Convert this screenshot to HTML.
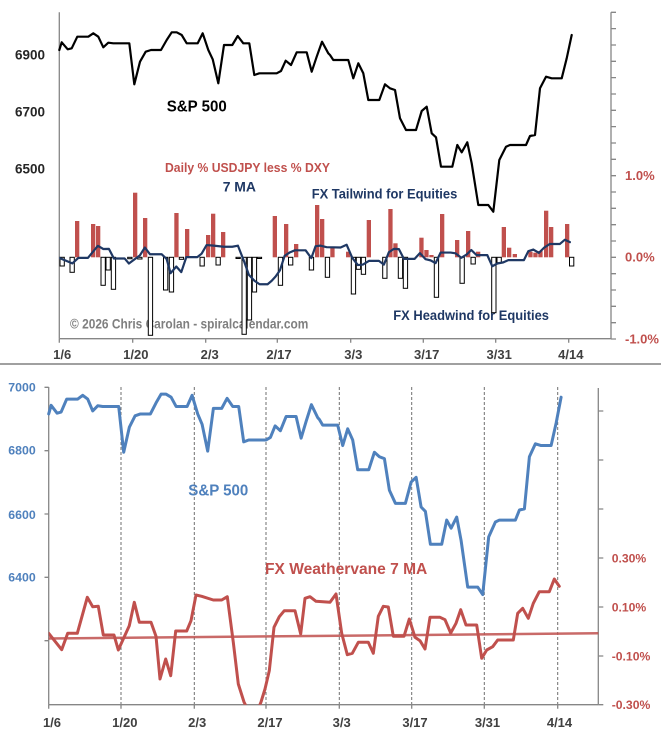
<!DOCTYPE html>
<html><head><meta charset="utf-8"><style>
html,body{margin:0;padding:0;background:#fff;}
svg{display:block;}
text{font-family:"Liberation Sans",Arial,sans-serif;font-weight:bold;}
</style></head><body>
<svg width="661" height="739" viewBox="0 0 661 739" xmlns="http://www.w3.org/2000/svg">
<defs>
<clipPath id="cb"><rect x="48.7" y="380" width="550" height="324.7"/></clipPath>
<clipPath id="ct"><rect x="59.3" y="5" width="552" height="333.7"/></clipPath>
</defs>
<rect width="661" height="739" fill="#fff"/>

<!-- ============ TOP PANEL ============ -->
<!-- axes -->
<g stroke="#868686" stroke-width="1.3" fill="none">
<line x1="59.3" y1="12.3" x2="59.3" y2="338.7"/>
<line x1="611" y1="12.3" x2="611" y2="339"/>
<line x1="59.3" y1="338.7" x2="611" y2="338.7"/>
<path d="M59.3 338.7v4M132.7 338.7v4M205.7 338.7v4M277.3 338.7v4M350.7 338.7v4M423.3 338.7v4M495.7 338.7v4M568.7 338.7v4"/>
<path d="M611 12.3h5M611 28.6h5M611 45h5M611 61.3h5M611 77.6h5M611 94h5M611 110.3h5M611 126.6h5M611 143h5M611 159.3h5M611 175.7h5M611 192h5M611 208.3h5M611 224.7h5M611 241h5M611 257.3h5M611 273.7h5M611 290h5M611 306.3h5M611 322.7h5M611 339h5"/>
</g>

<!-- top labels -->
<g fill="#262626" font-size="14">
<text x="15" y="59.3" textLength="30" lengthAdjust="spacingAndGlyphs">6900</text>
<text x="15" y="116.7" textLength="30" lengthAdjust="spacingAndGlyphs">6700</text>
<text x="15" y="173.3" textLength="30" lengthAdjust="spacingAndGlyphs">6500</text>
</g>
<g fill="#404040" font-size="13" text-anchor="middle">
<text x="62.2" y="359">1/6</text>
<text x="135.8" y="359">1/20</text>
<text x="209.7" y="359">2/3</text>
<text x="279" y="359">2/17</text>
<text x="353.3" y="359">3/3</text>
<text x="426.7" y="359">3/17</text>
<text x="499.2" y="359">3/31</text>
<text x="570.8" y="359">4/14</text>
</g>
<g fill="#C0504D" font-size="13">
<text x="625" y="180">1.0%</text>
<text x="625" y="261.7">0.0%</text>
<text x="625" y="343.3">-1.0%</text>
</g>

<text x="166.7" y="111.7" font-size="16" fill="#000" textLength="60" lengthAdjust="spacingAndGlyphs">S&amp;P 500</text>
<text x="165" y="172" font-size="12.5" fill="#C0504D" textLength="165" lengthAdjust="spacingAndGlyphs">Daily % USDJPY less % DXY</text>
<text x="222.7" y="191.7" font-size="14" fill="#1F3864" textLength="33.3" lengthAdjust="spacingAndGlyphs">7 MA</text>
<text x="311.7" y="198.3" font-size="14" fill="#1F3864" textLength="145.6" lengthAdjust="spacingAndGlyphs">FX Tailwind for Equities</text>
<text x="393.3" y="320" font-size="14" fill="#1F3864" textLength="155.7" lengthAdjust="spacingAndGlyphs">FX Headwind for Equities</text>
<text x="70" y="328.3" font-size="14" fill="#7F7F7F" textLength="238.3" lengthAdjust="spacingAndGlyphs">© 2026 Chris Carolan - spiralcalendar.com</text>

<!-- red bars -->
<g fill="#C0504D">
<rect x="75" y="221" width="4.3" height="36.3"/>
<rect x="91" y="224" width="4.3" height="33.3"/>
<rect x="96" y="226" width="4.3" height="31.3"/>
<rect x="133" y="192.7" width="4.3" height="64.6"/>
<rect x="143" y="218" width="4.3" height="39.3"/>
<rect x="174.3" y="213" width="4.3" height="44.3"/>
<rect x="185" y="229" width="4.3" height="28.3"/>
<rect x="206" y="235" width="4.3" height="22.3"/>
<rect x="211" y="213.7" width="4.3" height="43.6"/>
<rect x="221" y="232" width="4.3" height="25.3"/>
<rect x="272.7" y="216" width="4.3" height="41.3"/>
<rect x="284" y="224" width="4.3" height="33.3"/>
<rect x="294" y="244" width="4.3" height="13.3"/>
<rect x="315" y="205" width="4.3" height="52.3"/>
<rect x="320" y="219" width="4.3" height="38.3"/>
<rect x="330.3" y="247.7" width="4.3" height="9.6"/>
<rect x="346" y="251.7" width="4.3" height="5.6"/>
<rect x="366.7" y="220" width="4.3" height="37.3"/>
<rect x="388.3" y="209" width="4.3" height="48.3"/>
<rect x="393.3" y="243.3" width="4.3" height="14"/>
<rect x="419.3" y="237.7" width="4.3" height="19.6"/>
<rect x="424.3" y="250" width="4.3" height="7.3"/>
<rect x="429.3" y="255" width="4.3" height="2.3"/>
<rect x="440" y="214" width="4.3" height="43.3"/>
<rect x="455" y="240" width="4.3" height="17.3"/>
<rect x="466" y="231" width="4.3" height="26.3"/>
<rect x="476" y="251.7" width="4.3" height="5.6"/>
<rect x="501.7" y="227" width="4.3" height="30.3"/>
<rect x="507" y="247.7" width="4.3" height="9.6"/>
<rect x="512.7" y="254" width="4.3" height="3.3"/>
<rect x="528.3" y="251.7" width="4.3" height="5.6"/>
<rect x="533.3" y="252.7" width="4.3" height="4.6"/>
<rect x="538.3" y="251" width="4.3" height="6.3"/>
<rect x="544" y="210.7" width="4.3" height="46.6"/>
<rect x="549" y="227" width="4.3" height="30.3"/>
<rect x="565" y="224" width="4.3" height="33.3"/>
</g>
<!-- white bars -->
<g fill="#fff" stroke="#000" stroke-width="1">
<rect x="60" y="257.3" width="4.3" height="8.7"/>
<rect x="70" y="257.3" width="4.3" height="15"/>
<rect x="101" y="257.3" width="4.3" height="28"/>
<rect x="106" y="257.3" width="4.3" height="12.7"/>
<rect x="111.3" y="257.3" width="4.3" height="32"/>
<rect x="127.7" y="257.3" width="4.3" height="1.4"/>
<rect x="137.7" y="257.3" width="4.3" height="1.7"/>
<rect x="148.3" y="257.3" width="4.3" height="78"/>
<rect x="163.5" y="257.3" width="4.3" height="32.7"/>
<rect x="169.3" y="257.3" width="4.3" height="34.7"/>
<rect x="179.3" y="257.3" width="4.3" height="2"/>
<rect x="200" y="257.3" width="4.3" height="8.7"/>
<rect x="216" y="257.3" width="4.3" height="7.7"/>
<rect x="236" y="257.3" width="4.3" height="1.2"/>
<rect x="242" y="257.3" width="4.3" height="77"/>
<rect x="247.3" y="257.3" width="4.3" height="62.7"/>
<rect x="252.3" y="257.3" width="4.3" height="34.7"/>
<rect x="257.3" y="257.3" width="4.3" height="1.2"/>
<rect x="278.3" y="257.3" width="4.3" height="28"/>
<rect x="288.5" y="257.3" width="4.3" height="7.7"/>
<rect x="309.3" y="257.3" width="4.3" height="12.7"/>
<rect x="325.3" y="257.3" width="4.3" height="20"/>
<rect x="351.3" y="257.3" width="4.3" height="36.7"/>
<rect x="356.3" y="257.3" width="4.3" height="12"/>
<rect x="361.3" y="257.3" width="4.3" height="17"/>
<rect x="382.7" y="257.3" width="4.3" height="21"/>
<rect x="398.3" y="257.3" width="4.3" height="21"/>
<rect x="403.3" y="257.3" width="4.3" height="31"/>
<rect x="434.3" y="257.3" width="4.3" height="40"/>
<rect x="460" y="257.3" width="4.3" height="26"/>
<rect x="471" y="257.3" width="4.3" height="6.7"/>
<rect x="491.7" y="257.3" width="4.3" height="55.4"/>
<rect x="497" y="257.3" width="4.3" height="5.4"/>
<rect x="569.5" y="257.3" width="4.3" height="8.7"/>
</g>

<!-- top 7 MA (navy), derived from bottom trace -->
<g clip-path="url(#ct)">
<polyline transform="matrix(1,0,0,0.33467,10.6,45.95)" vector-effect="non-scaling-stroke" fill="none" stroke="#1F3864" stroke-width="2.2" stroke-linejoin="round" stroke-linecap="round"
points="48.7,633.3 61.7,649.7 67.7,633.3 77.3,633.3 87.3,597.3 92.7,606.7 98.3,606.3 103.3,635 114,635 118.3,650 129.3,625.7 134.3,602.3 139.3,622.3 151,622.3 156,636.3 160,679 165.7,659 170.7,675.7 175.7,631 186.7,631 191,620.7 196,595 201.7,596.3 213.3,600 221.7,600 227.3,596.7 233.3,642.3 238.3,684 244,702 249,712 257,712 261,702 265,689 269.3,670.7 274,627.3 279.3,616.7 284.3,610.7 295,610.7 300.7,634 305,598.3 310,596.7 316,601.3 330,602.3 336,594 341.7,633.3 347.3,654.7 352.3,653.3 358.3,642.3 368.3,642.3 373.3,653.3 378.3,616.3 383.3,606.3 388.3,607 393.3,636.3 404,636.3 409.3,619 415,637.3 420,640.7 425,649 430,617.3 440,617.3 445,619.7 450.7,633 456,623.3 460.7,609.7 466,625 476.7,625 481.7,658.3 486.7,650 492.7,646.7 497.7,640 513.3,640 517.7,613.3 522.7,608.3 528.3,618.3 533.3,603.3 539.3,591.7 549.3,591.7 554.3,579 559.3,586.3"/>
</g>

<!-- top S&P (black) -->
<polyline id="spx" fill="none" stroke="#000" stroke-width="2.2" stroke-linejoin="round" stroke-linecap="round"
points="59.3,50 61.7,42.3 67.7,49.3 71.7,48.3 77.3,36.7 88.3,36.7 93.3,33.3 98.3,36.7 103.3,47.3 108.3,42.7 113.3,43.3 129.3,43.3 134.3,84.3 140,61.7 145.7,51.7 151,50 161,50 166.7,40 171.7,32.3 176.7,32.3 181.7,35 186.7,43.3 197.7,43.3 202.7,33.3 208.3,50 212.7,59.3 218.3,83.3 224,45 232.3,45 237.7,36 243.3,43.3 249.3,43.3 254.3,75 259.3,73.3 276.7,73.3 281,71 285.7,60.7 291,65 296.7,52.3 306.7,52.3 311.7,71.7 316.7,56.7 322,41.7 328.3,53.3 330,55 333.3,60 348.3,60 353.3,78.3 358.3,63.3 363.3,73.3 368.3,100 379.3,100 385,84.3 390,88.3 395,90 400,118.3 406,130 416,130 421.7,111 426.7,106.7 431.7,133.3 436,137.3 441,166.7 452.3,166.7 457.3,145 461.7,152.3 467.3,142.3 471.7,163.3 478.3,205 488.3,205 493.3,211.7 499.3,160 506,146.7 510,145 526,145 530,136 535,135 540,88.3 546,76.7 551.7,78.3 561.7,78.3 566.7,58.3 571.7,35"/>

<!-- separator -->
<line x1="0" y1="364" x2="661" y2="364" stroke="#808080" stroke-width="1.5"/>

<!-- ============ BOTTOM PANEL ============ -->
<g stroke="#6f6f6f" stroke-width="1" stroke-dasharray="3,2" fill="none">
<path d="M121 387V704.7M194.3 387V704.7M266 387V704.7M339.3 387V704.7M411.7 387V704.7M484.3 387V704.7M557.7 387V704.7"/>
</g>
<g stroke="#868686" stroke-width="1.3" fill="none">
<line x1="48.7" y1="387" x2="48.7" y2="704.7"/>
<line x1="598.3" y1="388" x2="598.3" y2="704.7"/>
<line x1="48.7" y1="704.7" x2="598.3" y2="704.7"/>
<path d="M44.5 387.3h4.2M44.5 450.7h4.2M44.5 514h4.2M44.5 577.3h4.2M44.5 640.7h4.2"/>
<path d="M598.3 411h5M598.3 460h5M598.3 509h5M598.3 558h5M598.3 607h5M598.3 656h5M598.3 704.7h5"/>
<path d="M48.7 704.7v4M121 704.7v4M194.3 704.7v4M266 704.7v4M339.3 704.7v4M411.7 704.7v4M484.3 704.7v4M557.7 704.7v4"/>
</g>

<g fill="#4F81BD" font-size="12.3">
<text x="8.3" y="391.7" textLength="27.4" lengthAdjust="spacingAndGlyphs">7000</text>
<text x="8.3" y="454.5" textLength="27.4" lengthAdjust="spacingAndGlyphs">6800</text>
<text x="8.3" y="519" textLength="27.4" lengthAdjust="spacingAndGlyphs">6600</text>
<text x="8.3" y="581.7" textLength="27.4" lengthAdjust="spacingAndGlyphs">6400</text>
</g>
<g fill="#C0504D" font-size="12.2">
<text x="611.7" y="562.3">0.30%</text>
<text x="611.7" y="611.7">0.10%</text>
<text x="611.7" y="660.7">-0.10%</text>
<text x="611.7" y="709">-0.30%</text>
</g>
<g fill="#404040" font-size="13" text-anchor="middle">
<text x="52" y="727">1/6</text>
<text x="124.8" y="727">1/20</text>
<text x="197.2" y="727">2/3</text>
<text x="270" y="727">2/17</text>
<text x="341.7" y="727">3/3</text>
<text x="415" y="727">3/17</text>
<text x="487.5" y="727">3/31</text>
<text x="559.5" y="727">4/14</text>
</g>

<text x="188.3" y="495.7" font-size="16" fill="#4F81BD" textLength="60" lengthAdjust="spacingAndGlyphs">S&amp;P 500</text>
<text x="265" y="574" font-size="16" fill="#C0504D" textLength="162.3" lengthAdjust="spacingAndGlyphs">FX Weathervane 7 MA</text>

<!-- trendline -->
<line x1="48.7" y1="638.5" x2="598.3" y2="633.3" stroke="#C0504D" stroke-opacity="0.85" stroke-width="2.5"/>

<!-- bottom S&P (blue) -->
<polyline transform="matrix(1,0,0,1.1171,-10.6,358.09)" vector-effect="non-scaling-stroke" fill="none" stroke="#4F81BD" stroke-width="3" stroke-linejoin="round" stroke-linecap="round"
points="59.3,50 61.7,42.3 67.7,49.3 71.7,48.3 77.3,36.7 88.3,36.7 93.3,33.3 98.3,36.7 103.3,47.3 108.3,42.7 113.3,43.3 129.3,43.3 134.3,84.3 140,61.7 145.7,51.7 151,50 161,50 166.7,40 171.7,32.3 176.7,32.3 181.7,35 186.7,43.3 197.7,43.3 202.7,33.3 208.3,50 212.7,59.3 218.3,83.3 224,45 232.3,45 237.7,36 243.3,43.3 249.3,43.3 254.3,75 259.3,73.3 276.7,73.3 281,71 285.7,60.7 291,65 296.7,52.3 306.7,52.3 311.7,71.7 316.7,56.7 322,41.7 328.3,53.3 330,55 333.3,60 348.3,60 353.3,78.3 358.3,63.3 363.3,73.3 368.3,100 379.3,100 385,84.3 390,88.3 395,90 400,118.3 406,130 416,130 421.7,111 426.7,106.7 431.7,133.3 436,137.3 441,166.7 452.3,166.7 457.3,145 461.7,152.3 467.3,142.3 471.7,163.3 478.3,205 488.3,205 493.3,211.7 499.3,160 506,146.7 510,145 526,145 530,136 535,135 540,88.3 546,76.7 551.7,78.3 561.7,78.3 566.7,58.3 571.7,35"/>

<!-- bottom 7 MA (red) -->
<g clip-path="url(#cb)">
<polyline fill="none" stroke="#C0504D" stroke-width="3" stroke-linejoin="round" stroke-linecap="round"
points="48.7,633.3 61.7,649.7 67.7,633.3 77.3,633.3 87.3,597.3 92.7,606.7 98.3,606.3 103.3,635 114,635 118.3,650 129.3,625.7 134.3,602.3 139.3,622.3 151,622.3 156,636.3 160,679 165.7,659 170.7,675.7 175.7,631 186.7,631 191,620.7 196,595 201.7,596.3 213.3,600 221.7,600 227.3,596.7 233.3,642.3 238.3,684 244,702 249,712 257,712 261,702 265,689 269.3,670.7 274,627.3 279.3,616.7 284.3,610.7 295,610.7 300.7,634 305,598.3 310,596.7 316,601.3 330,602.3 336,594 341.7,633.3 347.3,654.7 352.3,653.3 358.3,642.3 368.3,642.3 373.3,653.3 378.3,616.3 383.3,606.3 388.3,607 393.3,636.3 404,636.3 409.3,619 415,637.3 420,640.7 425,649 430,617.3 440,617.3 445,619.7 450.7,633 456,623.3 460.7,609.7 466,625 476.7,625 481.7,658.3 486.7,650 492.7,646.7 497.7,640 513.3,640 517.7,613.3 522.7,608.3 528.3,618.3 533.3,603.3 539.3,591.7 549.3,591.7 554.3,579 559.3,586.3"/>
</g>
</svg>
</body></html>
